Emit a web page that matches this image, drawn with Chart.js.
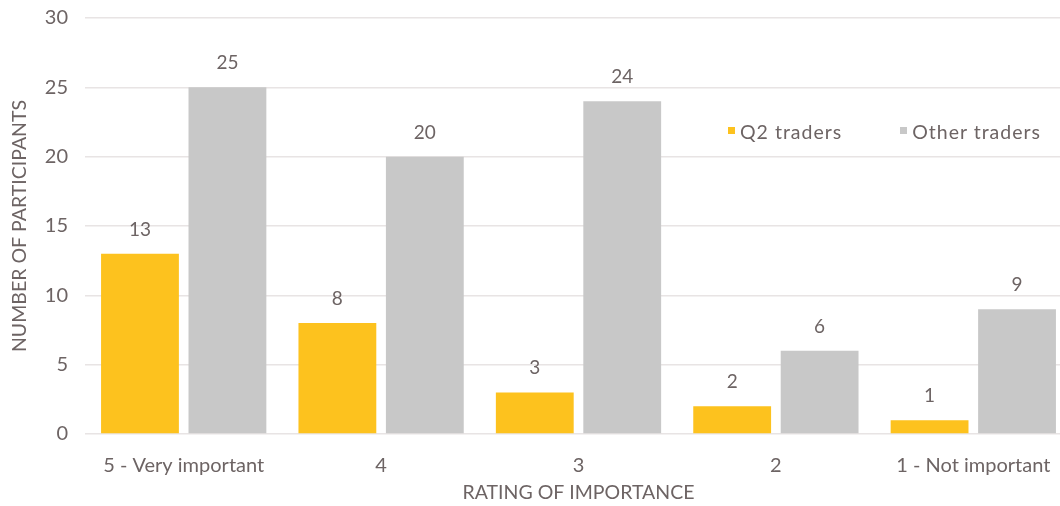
<!DOCTYPE html>
<html><head><meta charset="utf-8">
<script src="https://cdn.jsdelivr.net/npm/chart.js@4"></script>
<style>
html,body{margin:0;padding:0;background:#fff;overflow:hidden;}
#wrap{position:relative;width:1075px;height:506px;overflow:hidden;}
#c{position:absolute;left:0;top:-11px;}
#legend{position:absolute;top:120px;left:728px;font-family:Lato,sans-serif;font-size:19.5px;letter-spacing:1px;color:#6d6464;white-space:nowrap;}
#legend span.item{display:inline-block;margin-right:58px;}
#legend i{display:inline-block;width:7px;height:7px;margin-right:5px;vertical-align:5px;}
</style></head>
<body>
<div id="wrap"><canvas id="c" width="1075" height="517"></canvas>
<div id="legend"></div></div>
<script>
const categories = ["5 - Very important", "4", "3", "2", "1 - Not important"];
const q2Traders = [13, 8, 3, 2, 1];
const otherTraders = [25, 20, 24, 6, 9];
const seriesNames = ["Q2 traders", "Other traders"];
const seriesColors = ["#FDC21E", "#C8C8C8"];
const yTicks = [0, 5, 10, 15, 20, 25, 30];
const textColor = "#6d6464";

document.getElementById('legend').innerHTML = seriesNames.map((n,i)=>
  '<span class="item"><i style="background:'+seriesColors[i]+'"></i>'+n+'</span>').join('');

const valueLabels = {
  id: 'valueLabels',
  afterDatasetsDraw(chart) {
    const ctx = chart.ctx;
    ctx.save();
    ctx.font = '19px Lato, sans-serif';
    ctx.fillStyle = textColor;
    ctx.textAlign = 'center';
    ctx.textBaseline = 'alphabetic';
    chart.data.datasets.forEach((ds, di) => {
      chart.getDatasetMeta(di).data.forEach((bar, i) => {
        ctx.fillText(String(ds.data[i]), bar.x, bar.y - 18);
      });
    });
    ctx.restore();
  }
};

new Chart(document.getElementById('c'), {
  type: 'bar',
  data: {
    labels: categories,
    datasets: [
      { label: seriesNames[0], data: q2Traders, backgroundColor: seriesColors[0] },
      { label: seriesNames[1], data: otherTraders, backgroundColor: seriesColors[1] }
    ]
  },
  options: {
    responsive: false,
    animation: false,
    devicePixelRatio: 1,
    layout: { padding: { top: 4, right: 3, left: 0, bottom: 0 } },
    plugins: { legend: { display: false }, tooltip: { enabled: false } },
    datasets: { bar: { categoryPercentage: 0.886, barPercentage: 0.89 } },
    scales: {
      x: {
        grid: { display: false },
        border: { display: false },
        ticks: { color: textColor, font: { family: 'Lato', size: 20 }, padding: 12, maxRotation: 0 },
        title: { display: true, text: 'RATING OF IMPORTANCE', color: textColor, font: { family: 'Lato', size: 19.5 }, padding: { top: 4, bottom: 2 } },
        afterFit: s => { s.height = 72; }
      },
      y: {
        min: 0, max: 30,
        afterBuildTicks: s => { s.ticks = yTicks.map(v => ({ value: v })); },
        grid: { color: '#e8e4e4', lineWidth: 1.5, drawTicks: false },
        border: { display: false },
        ticks: { color: textColor, font: { family: 'Lato', size: 20 }, padding: 17 },
        title: { display: true, text: 'NUMBER OF PARTICIPANTS', color: textColor, font: { family: 'Lato', size: 19.5 }, padding: { top: 8, bottom: 4 } },
        afterFit: s => { s.width = 85; }
      }
    }
  },
  plugins: [valueLabels]
});
</script>
</body></html>
